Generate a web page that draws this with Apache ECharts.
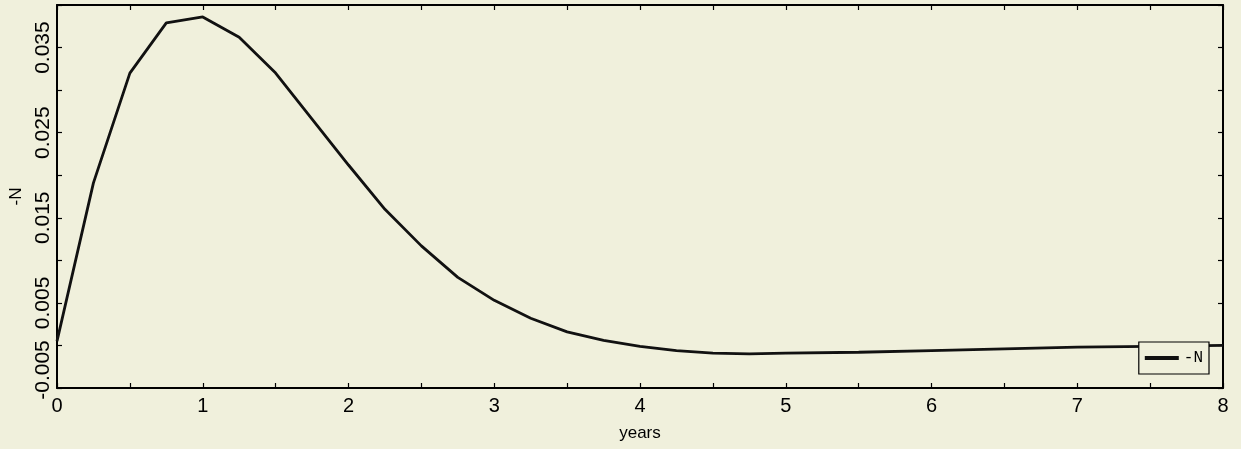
<!DOCTYPE html>
<html>
<head>
<meta charset="utf-8">
<script src="https://cdn.jsdelivr.net/npm/echarts@6/dist/echarts.min.js"></script>
<style>
html,body{margin:0;padding:0;background:#f0f0dc;}
#c{width:1241px;height:449px;}
</style>
</head>
<body>
<div id="c"></div>
<script>
const years = [0,0.25,0.5,0.75,1,1.25,1.5,1.75,2,2.25,2.5,2.75,3,3.25,3.5,3.75,4,4.25,4.5,4.75,5,5.5,6,6.5,7,7.5,8];
const negN = [0.0005,0.0191,0.0320,0.0379,0.0386,0.0362,0.0320,0.0266,0.0212,0.0160,0.0117,0.0080,0.0053,0.0032,0.0016,0.0006,-0.0001,-0.0006,-0.0009,-0.0010,-0.0009,-0.0008,-0.0006,-0.0004,-0.0002,-0.0001,0.0000];
const yTickLabels = ['-0.005','0.005','0.015','0.025','0.035'];
const seriesName = '-N';

const chart = echarts.init(document.getElementById('c'));
const axisLine = {show:true, onZero:false, lineStyle:{color:'#000', width:2}};
const font = 'Liberation Sans, Arial, sans-serif';
const tick = {show:true, inside:true, length:5, lineStyle:{color:'#000', width:1.2}};
function yFmt(v){
  const s = (Math.round(v*1000)/1000).toFixed(3);
  if (yTickLabels.indexOf(s) < 0) return '';
  if (s === '-0.005') return '{lo|' + s + '}';
  return s;
}
chart.setOption({
  backgroundColor:'#f0f0dc',
  animation:false,
  grid:{left:57, right:18, top:5, bottom:61},
  legend:{
    right:32, top:342, orient:'vertical',
    backgroundColor:'#f0f0dc', borderColor:'#000', borderWidth:1.2,
    padding:[8,6,8,6], itemWidth:34, itemHeight:4, itemGap:0,
    textStyle:{fontFamily:'Liberation Mono, DejaVu Sans Mono, monospace', fontSize:16, color:'#000'},
    data:[{name:seriesName, icon:'rect'}]
  },
  xAxis:[{
    type:'value', min:0, max:8, interval:0.5,
    name:'years', nameLocation:'middle', nameGap:37,
    nameTextStyle:{fontFamily:font, fontSize:17, color:'#000'},
    axisLine:axisLine, axisTick:tick,
    axisLabel:{margin:8, fontFamily:font, fontSize:20, color:'#000',
      formatter:function(v){return Number.isInteger(v)? String(v) : '';}},
    splitLine:{show:false}
  },{
    type:'value', position:'top', min:0, max:8, interval:0.5,
    axisLine:axisLine, axisTick:tick,
    axisLabel:{show:false}, splitLine:{show:false}
  }],
  yAxis:[{
    type:'value', min:-0.005, max:0.04, interval:0.005,
    name:seriesName, nameLocation:'middle', nameGap:27,
    nameTextStyle:{fontFamily:font, fontSize:17, color:'#000'},
    axisLine:axisLine, axisTick:tick,
    axisLabel:{rotate:90, margin:3, fontFamily:font, fontSize:21, color:'#000',
      formatter:yFmt,
      rich:{lo:{fontFamily:font, fontSize:21, color:'#000', padding:[0,0,0,36]}}},
    splitLine:{show:false}
  },{
    type:'value', position:'right', min:-0.005, max:0.04, interval:0.005,
    axisLine:axisLine, axisTick:tick,
    axisLabel:{show:false}, splitLine:{show:false}
  }],
  series:[{
    name:seriesName, type:'line', showSymbol:false, symbol:'none',
    data: years.map((x,i)=>[x, negN[i]]),
    lineStyle:{color:'#111', width:2.8},
    itemStyle:{color:'#111'}
  }]
});
</script>
</body>
</html>
